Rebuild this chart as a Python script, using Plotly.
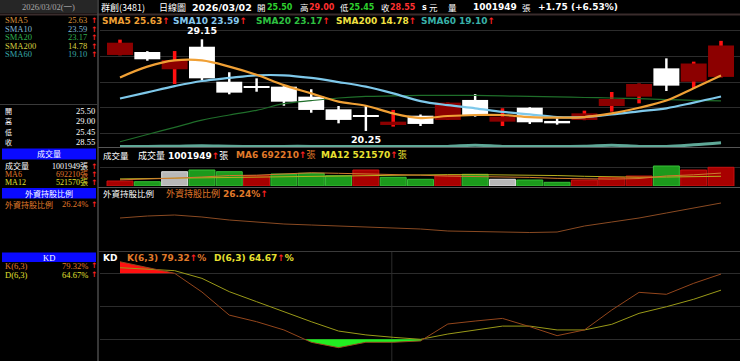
import plotly.graph_objects as go

W, H = 740, 361

# ---------------- data ----------------
idx = list(range(23))
opens  = [27.63, 27.92, 26.24, 28.43, 25.03, 24.60, 24.55, 23.58, 22.35, 21.78, 20.83, 21.73,
          21.32, 23.26, 21.15, 22.51, 21.22, 21.32, 22.67, 23.58, 26.33, 25.03, 25.50]
closes = [28.82, 27.21, 27.14, 25.36, 23.97, 24.50, 23.09, 22.29, 21.32, 21.70, 21.15, 20.93,
          23.00, 21.80, 21.64, 21.09, 20.99, 21.96, 23.35, 24.81, 24.65, 26.80, 28.55]
highs  = [29.12, 28.00, 28.01, 29.15, 25.95, 25.36, 24.60, 24.30, 22.67, 22.77, 22.29, 21.85,
          23.00, 23.84, 22.45, 22.55, 21.48, 22.22, 24.03, 24.85, 27.30, 26.98, 29.00]
lows   = [27.60, 27.07, 24.81, 25.20, 23.81, 24.06, 22.70, 22.02, 20.99, 20.25, 20.67, 20.73,
          21.32, 21.64, 20.73, 20.93, 20.86, 21.30, 22.12, 22.93, 24.13, 24.39, 25.45]

sma5  = [25.45, 26.50, 27.10, 27.10, 26.50, 25.70, 24.70, 23.90, 23.10, 22.70, 21.95, 21.50,
         21.70, 21.80, 21.80, 21.60, 21.55, 21.60, 21.95, 22.50, 23.20, 24.40, 25.63]
sma10 = [23.40, 24.00, 24.60, 25.10, 25.40, 25.65, 25.65, 25.40, 25.00, 24.55, 23.90, 23.15,
         22.75, 22.45, 22.10, 21.85, 21.60, 21.60, 21.85, 22.15, 22.45, 23.00, 23.59]
sma20 = [19.20, 19.90, 20.60, 21.30, 21.80, 22.25, 22.90, 23.20, 23.45, 23.60, 23.65, 23.70,
         23.70, 23.70, 23.65, 23.60, 23.55, 23.50, 23.45, 23.38, 23.30, 23.22, 23.17]
sma60 = [18.74, 18.75, 18.76, 18.80, 18.76, 18.74, 18.75, 18.75, 18.74, 18.74, 18.75, 18.74,
         18.75, 18.86, 18.75, 18.74, 18.75, 18.76, 18.86, 18.75, 18.74, 18.90, 19.10]

volume = [268000, 230000, 766000, 857000, 766000, 552000, 643000, 680000, 552000, 857000, 466000, 359000,
          552000, 627000, 359000, 321000, 198000, 321000, 466000, 536000, 1072000, 857000, 1001949]
vol_dir = ['r', 'g', 'n', 'g', 'g', 'r', 'g', 'g', 'g', 'r', 'g', 'g',
           'r', 'g', 'n', 'g', 'g', 'r', 'r', 'r', 'g', 'r', 'r']
vol_ma6  = [330000, 360000, 420000, 480000, 560000, 580000, 650000, 710000, 680000, 660000, 640000, 580000,
            530000, 520000, 490000, 460000, 410000, 390000, 370000, 400000, 540000, 600000, 692210]
vol_ma12 = [380000, 400000, 420000, 440000, 460000, 480000, 500000, 540000, 560000, 580000, 600000, 600000,
            610000, 610000, 600000, 590000, 560000, 520000, 490000, 470000, 480000, 500000, 521570]

foreign_pct = [25.94, 25.98, 26.00, 25.96, 25.90, 25.86, 25.82, 25.80, 25.78, 25.76, 25.74, 25.72,
               25.68, 25.67, 25.66, 25.65, 25.66, 25.78, 25.86, 25.94, 26.04, 26.14, 26.24]

k_val = [90.5, 85.0, 80.0, 63.0, 42.0, 36.0, 28.5, 17.3, 12.4, 17.3, 17.3, 18.5,
         33.9, 36.6, 39.0, 31.5, 23.3, 28.5, 46.6, 62.7, 60.9, 70.9, 79.32]
d_val = [85.1, 83.9, 82.4, 75.4, 63.3, 54.2, 45.0, 36.0, 27.5, 24.0, 21.8, 20.0,
         24.8, 28.5, 32.0, 32.0, 28.5, 28.5, 33.6, 43.6, 49.6, 56.4, 64.67]

# ---------------- helpers ----------------
def py(p):
    return 1 - p / H

SANS = "DejaVu Sans, Noto Sans CJK TC"
SERIF = "Liberation Serif, Noto Sans CJK TC"
CJK = "Noto Sans CJK TC"
ARW = "<span style='color:#ff2020'><b>↑</b></span>"

fig = go.Figure()

# ---------------- price panel ----------------
up = [c >= o for o, c in zip(opens, closes)]
wick_w = [0.13 if u else 0.09 for u in up]
wick_c = ['#ff1010' if u else '#ffffff' for u in up]
fig.add_trace(go.Bar(x=idx, y=[h - l for h, l in zip(highs, lows)], base=lows, width=wick_w,
                     marker=dict(color=wick_c, line=dict(width=0)), xaxis='x', yaxis='y',
                     hoverinfo='skip', showlegend=False))
body_h = [max(abs(c - o), 0.09) for o, c in zip(opens, closes)]
body_b = [min(o, c) for o, c in zip(opens, closes)]
body_c = ['#8c0000' if u else '#ffffff' for u in up]
fig.add_trace(go.Bar(x=idx, y=body_h, base=body_b, width=0.95,
                     marker=dict(color=body_c, line=dict(width=0)), xaxis='x', yaxis='y',
                     hoverinfo='skip', showlegend=False))

fig.add_trace(go.Scatter(x=idx, y=sma60, mode='lines', line=dict(color='#5fa898', width=3, shape='spline'),
                         xaxis='x', yaxis='y', showlegend=False))
fig.add_trace(go.Scatter(x=idx, y=sma20, mode='lines', line=dict(color='#1f6e2a', width=1.2, shape='spline'),
                         xaxis='x', yaxis='y', showlegend=False))
fig.add_trace(go.Scatter(x=idx, y=sma10, mode='lines', line=dict(color='#7ec8ea', width=2.2, shape='spline'),
                         xaxis='x', yaxis='y', showlegend=False))
fig.add_trace(go.Scatter(x=idx, y=sma5, mode='lines', line=dict(color='#f0a035', width=2.2, shape='spline'),
                         xaxis='x', yaxis='y', showlegend=False))

# ---------------- volume panel ----------------
vcol = {'r': '#a80000', 'g': '#1c9a1c', 'n': '#b8b8b8'}
vline = {'r': '#c81010', 'g': '#36c036', 'n': '#e0e0e0'}
fig.add_trace(go.Bar(x=idx, y=volume, width=0.95,
                     marker=dict(color=[vcol[d] for d in vol_dir],
                                 line=dict(color=[vline[d] for d in vol_dir], width=1)),
                     xaxis='x', yaxis='y2', hoverinfo='skip', showlegend=False))
fig.add_trace(go.Scatter(x=idx, y=vol_ma12, mode='lines', line=dict(color='#b8b020', width=1),
                         xaxis='x', yaxis='y2', showlegend=False))
fig.add_trace(go.Scatter(x=idx, y=vol_ma6, mode='lines', line=dict(color='#d07830', width=1),
                         xaxis='x', yaxis='y2', showlegend=False))

# ---------------- foreign holding panel ----------------
fig.add_trace(go.Scatter(x=idx, y=foreign_pct, mode='lines', line=dict(color='#8a4a22', width=1),
                         xaxis='x', yaxis='y3', showlegend=False))

# ---------------- KD panel ----------------
def thr_poly(x, y, thr, above):
    xs, ys = [], []
    for i in range(len(x)):
        if i > 0:
            y0, y1 = y[i - 1], y[i]
            if (y0 - thr) * (y1 - thr) < 0:
                t = (thr - y0) / (y1 - y0)
                xs.append(x[i - 1] + t * (x[i] - x[i - 1]))
                ys.append(thr)
        xs.append(x[i])
        ys.append(max(y[i], thr) if above else min(y[i], thr))
    return xs, ys

for thr, above, col in [(80, True, '#ff1010'), (20, False, '#22ee22')]:
    xs, ys = thr_poly(idx, k_val, thr, above)
    fig.add_trace(go.Scatter(x=xs, y=[thr] * len(xs), mode='lines', line=dict(width=0),
                             xaxis='x', yaxis='y4', showlegend=False, hoverinfo='skip'))
    fig.add_trace(go.Scatter(x=xs, y=ys, mode='lines', line=dict(width=0), fill='tonexty',
                             fillcolor=col, xaxis='x', yaxis='y4', showlegend=False, hoverinfo='skip'))

fig.add_trace(go.Scatter(x=idx, y=d_val, mode='lines', line=dict(color='#9a9a18', width=1),
                         xaxis='x', yaxis='y4', showlegend=False))
fig.add_trace(go.Scatter(x=idx, y=k_val, mode='lines', line=dict(color='#94461c', width=1),
                         xaxis='x', yaxis='y4', showlegend=False))

# ---------------- annotations ----------------
ann = []
def T(px, pyy, text, color='white', size=9, family=SANS, xanchor='left'):
    ann.append(dict(x=px / W, y=py(pyy), xref='paper', yref='paper', text=text, showarrow=False,
                    xanchor=xanchor, yanchor='middle', borderpad=0,
                    font=dict(color=color, size=size, family=family)))

def STACK(px, y_first, spacing, rows, family, xanchor):
    """rows: list of (text, color, size). Multi-line block, one text element."""
    base = spacing / 1.3
    txt = "<br>".join(f"<span style='color:{c};font-size:{s}px'>{t}</span>" for t, c, s in rows)
    yc = y_first + spacing * (len(rows) - 1) / 2
    ann.append(dict(x=px / W, y=py(yc), xref='paper', yref='paper', text=txt, showarrow=False,
                    xanchor=xanchor, yanchor='middle', align=xanchor, borderpad=0,
                    font=dict(color='white', size=base, family=family)))

# price labels
ann.append(dict(x=3, y=highs[3], xref='x', yref='y', text='<b>29.15</b>', showarrow=False,
                yanchor='bottom', yshift=1, font=dict(color='white', size=9.5, family=SANS)))
ann.append(dict(x=9, y=lows[9], xref='x', yref='y', text='<b>20.25</b>', showarrow=False,
                yanchor='top', yshift=-1, font=dict(color='white', size=9.5, family=SANS)))

# top header
T(100, 7, "群創(3481)", 'white', 9, CJK)
T(158, 7, "日線圖", 'white', 9, CJK)
T(191, 7, "<b>2026/03/02</b>", 'white', 9.5)
GRN, RED = '#2ed02e', '#ff3030'
T(256, 7, "開", 'white', 8.5, CJK); T(266, 7, "<b>25.50</b>", GRN, 8)
T(299, 7, "高", 'white', 8.5, CJK); T(308, 7, "<b>29.00</b>", RED, 8)
T(339, 7, "低", 'white', 8.5, CJK); T(348, 7, "<b>25.45</b>", GRN, 8)
T(380, 7, "收", 'white', 8.5, CJK); T(389, 7, "<b>28.55</b>", RED, 8)
T(421, 7, "<b>s</b>", 'white', 8); T(428, 7, "元", 'white', 8.5, CJK)
T(447, 7, "量", 'white', 8.5, CJK)
T(518, 7, "<b>1001949</b>", 'white', 9, SANS, 'right')
T(521, 7, "張", 'white', 8.5, CJK)
T(537, 7, "<b>+1.75 (+6.53%)</b>", 'white', 9)

# SMA legend
T(101, 21, "<b>SMA5 25.63</b>" + ARW, '#f0a035')
T(172, 21, "<b>SMA10 23.59</b>" + ARW, '#86c8ee')
T(255, 21, "<b>SMA20 23.17</b>" + ARW, '#2ec040')
T(335, 21, "<b>SMA200 14.78</b>" + ARW, '#f0e040')
T(420, 21, "<b>SMA60 19.10</b>" + ARW, '#38b0a8')

# volume header
T(102, 155, "成交量", 'white', 8.5, CJK)
T(137, 155, "成交量 <b>1001949</b>" + ARW + "張", 'white', 9)
T(235, 155, "<b>MA6 692210</b>" + ARW + "張", '#e07a2a', 9)
T(320, 155, "<b>MA12 521570</b>" + ARW + "張", '#e8e030', 9)

# foreign header
T(102, 193, "外資持股比例", 'white', 8.5, CJK)
T(165, 193, "外資持股比例 <b>26.24%</b>" + ARW, '#e07a2a', 9)

# KD header
T(102, 258, "<b>KD</b>", 'white', 9)
T(126, 258, "<b>K(6,3) 79.32</b>" + ARW + "<b>%</b>", '#e07a2a', 9)
T(213, 258, "<b>D(6,3) 64.67</b>" + ARW + "<b>%</b>", '#e8e030', 9)

# ---------------- left panel ----------------
T(48, 6.5, "2026/03/02(一)", '#a8a8a8', 8.5, SERIF, 'center')

sma_lab = ["SMA5", "SMA10", "SMA20", "SMA200", "SMA60"]
sma_val = ["25.63", "23.59", "23.17", "14.78", "19.10"]
sma_col = ['#d8903a', '#80b8d8', '#30b050', '#d8d040', '#38a8a8']
STACK(4, 20, 8.5, [(l, c, 8.5) for l, c in zip(sma_lab, sma_col)], SERIF, 'left')
STACK(88, 20, 8.5, [(v, c, 8.5) for v, c in zip(sma_val, sma_col)], SERIF, 'right')
STACK(94, 20, 8.5, [("<b>↑</b>", '#ff2020', 7.5)] * 5, SANS, 'center')

STACK(4, 111, 10.3, [(l, 'white', 7) for l in ["開", "高", "低", "收"]], CJK, 'left')
STACK(96, 111, 10.3, [(v, 'white', 8.5) for v in ["25.50", "29.00", "25.45", "28.55"]], SERIF, 'right')

T(49, 154, "成交量", 'white', 8, CJK, 'center')
vol_lab = ["成交量", "MA6", "MA12"]
vol_txt = ["1001949張", "692210張", "521570張"]
vol_col = ['white', '#e07a2a', '#e0e030']
STACK(4, 166, 8, [(l, c, 8) for l, c in zip(vol_lab, vol_col)], SERIF, 'left')
STACK(89, 166, 8, [(v, c, 8) for v, c in zip(vol_txt, vol_col)], SERIF, 'right')
STACK(94, 166, 8, [("<b>↑</b>", '#ff2020', 7.5)] * 3, SANS, 'center')

T(49, 193.5, "外資持股比例", 'white', 8, CJK, 'center')
T(4, 204, "外資持股比例", '#e07a2a', 8, CJK)
T(89, 204, "26.24%", '#e07a2a', 8.5, SERIF, 'right')
T(94, 204, ARW, '#e07a2a', 7.5, SANS, 'center')

T(49, 257.5, "KD", 'white', 8.5, SERIF, 'center')
kd_col = ['#e07a2a', '#e0e030']
STACK(4, 266, 8.5, [(l, c, 8.5) for l, c in zip(["K(6,3)", "D(6,3)"], kd_col)], SERIF, 'left')
STACK(89, 266, 8.5, [(v, c, 8.5) for v, c in zip(["79.32%", "64.67%"], kd_col)], SERIF, 'right')
STACK(94, 266, 8.5, [("<b>↑</b>", '#ff2020', 7.5)] * 2, SANS, 'center')

# ---------------- shapes ----------------
shapes = []
def R(x0, y0, x1, y1, fill, line=None):
    shapes.append(dict(type='rect', xref='paper', yref='paper', x0=x0 / W, x1=x1 / W, y0=py(y1), y1=py(y0),
                       fillcolor=fill, line=dict(width=0) if line is None else line, layer='below'))
def L(x0, y0, x1, y1, col, w=1):
    shapes.append(dict(type='line', xref='paper', yref='paper', x0=x0 / W, x1=x1 / W, y0=py(y0), y1=py(y1),
                       line=dict(color=col, width=w), layer='above'))

R(0, 0, 97, 13, '#262626')
R(2, 148.5, 96, 159.5, '#0a0aff')
R(2, 188, 96, 198.5, '#0a0aff')
R(2, 252.5, 96, 262, '#0a0aff')
L(0, 14.5, 740, 14.5, '#3a2c2c', 2)
L(98, 0, 98, 361, '#4a4a4a', 1.5)
L(0, 104.5, 97, 104.5, '#3a3a3a', 1)
L(98, 147.5, 740, 147.5, '#555555', 1)
L(98, 187.5, 740, 187.5, '#555555', 1)
L(98, 251.5, 740, 251.5, '#3a3a3a', 1)
shapes.append(dict(type='line', xref='x', yref='paper', x0=9.95, x1=9.95, y0=0, y1=py(252),
                   line=dict(color='#2c2c2c', width=1), layer='below'))

# ---------------- layout ----------------
GRID = '#2c2c2c'
def yax(dom_top, dom_bot, rng, ticks):
    return dict(domain=[py(dom_bot), py(dom_top)], range=rng, showticklabels=False, ticks='',
                showgrid=bool(ticks), tickvals=ticks, gridcolor=GRID, gridwidth=1, zeroline=False,
                showline=False, fixedrange=True)

fig.update_layout(
    width=W, height=H, margin=dict(l=0, r=0, t=0, b=0),
    paper_bgcolor='black', plot_bgcolor='black', showlegend=False, barmode='overlay',
    xaxis=dict(domain=[100 / W, 1], range=[-0.732, 22.695], visible=False, fixedrange=True),
    yaxis=yax(18, 147, [18.69, 31.22], [20, 22.5, 25, 27.5, 30]),
    yaxis2=yax(148, 186, [0, 2036800], [1000000]),
    yaxis3=yax(188, 251, [25.28, 26.54], []),
    yaxis4=yax(252, 361, [0.27, 99.36], [20, 50, 80]),
    annotations=ann, shapes=shapes,
)

fig.write_html("out.html")
